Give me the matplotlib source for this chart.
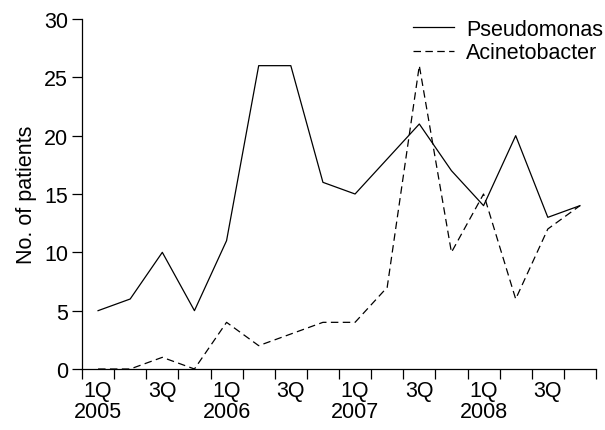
import numpy as np
import matplotlib.pyplot as plt

plt.rcParams['font.family'] = ['Liberation Sans', 'DejaVu Sans']

# quarters 1Q 2005 .. 4Q 2008
quarters = np.arange(1, 17)
pseudomonas = [5, 6, 10, 5, 11, 26, 26, 16, 15, 18, 21, 17, 14, 20, 13, 14]
acinetobacter = [0, 0, 1, 0, 4, 2, 3, 4, 4, 7, 26, 10, 15, 6, 12, 14]
tick_labels = ["1Q\n2005", "", "3Q", "", "1Q\n2006", "", "3Q", "",
               "1Q\n2007", "", "3Q", "", "1Q\n2008", "", "3Q", ""]

fig = plt.figure(figsize=(6.05, 4.31), dpi=100)
ax = fig.add_axes([82 / 605, 1 - 370 / 431, (596 - 82) / 605, 350 / 431])

ax.plot(quarters, pseudomonas, color="black", lw=0.9, label="Pseudomonas")
ax.plot(quarters, acinetobacter, color="black", lw=0.9, dashes=(6, 3.5),
        label="Acinetobacter")

ax.set_xlim(0.5, 16.5)
ax.set_ylim(0, 30)
ax.set_xticks(np.arange(0.5, 17, 1))
ax.set_xticklabels([])
ax.set_xticks(quarters, minor=True)
ax.set_xticklabels(tick_labels, minor=True, fontsize=15.5, linespacing=1.0,
                   va="top", multialignment="center")
ax.tick_params(axis="x", which="minor", length=0, pad=8)
ax.tick_params(axis="x", which="major", length=7, width=0.9, direction="out")
ax.set_yticks([0, 5, 10, 15, 20, 25, 30])
ax.tick_params(axis="y", length=7, width=0.9, direction="out", labelsize=15.5,
               pad=3)

for s in ["top", "right"]:
    ax.spines[s].set_visible(False)
for s in ["left", "bottom"]:
    ax.spines[s].set_linewidth(0.9)

ax.set_ylabel("No. of patients", fontsize=15.5, labelpad=5)

ax.legend(loc="upper right", bbox_to_anchor=(1.03, 1.025), frameon=False,
          fontsize=15.5, handlelength=1.9, handletextpad=0.55, labelspacing=0.12,
          borderaxespad=0)

fig.savefig("out.png", dpi=100)
